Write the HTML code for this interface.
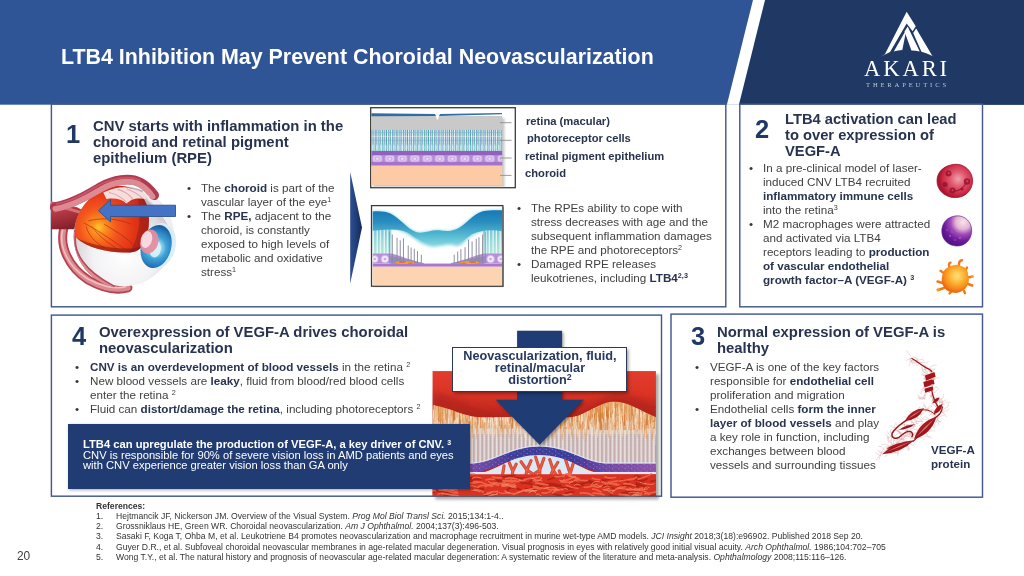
<!DOCTYPE html>
<html><head><meta charset="utf-8">
<title>LTB4 Inhibition May Prevent Choroidal Neovascularization</title>
<style>
html,body{margin:0;padding:0;}
body{width:1024px;height:576px;position:relative;overflow:hidden;background:#fff;font-family:"Liberation Sans",sans-serif;}
.abs{position:absolute;}
.t,.h,.num,.lab,.ref,.bl,#dt,#lblt,#title,#pgn,#akari,#thera{will-change:transform;}
.box{position:absolute;border:1.5px solid #3f5c97;box-sizing:border-box;background:#fff;}
.h{position:absolute;font-weight:bold;font-size:14.87px;line-height:16.1px;color:#27334f;white-space:nowrap;}
.num{position:absolute;font-weight:bold;font-size:25.5px;color:#1f3864;line-height:26px;white-space:nowrap;}
.t{position:absolute;font-size:11.67px;line-height:14px;color:#404040;white-space:nowrap;}
.t b{color:#27334f;}
.bl{position:absolute;font-size:11.67px;line-height:14px;color:#333;}
.lab{position:absolute;font-weight:bold;font-size:11.2px;line-height:14px;color:#27334f;white-space:nowrap;}
sup{font-size:62%;line-height:0;vertical-align:baseline;position:relative;top:-0.5em;}
.ref{position:absolute;font-size:8.6px;line-height:10.2px;color:#333;white-space:nowrap;}
</style></head>
<body>
<!-- HEADER -->
<svg class="abs" style="left:0;top:0" width="1024" height="106" viewBox="0 0 1024 106">
<rect width="1024" height="104.7" fill="#2f5597"/>
<polygon points="765,0 1024,0 1024,104.7 738.9,104.7" fill="#203864"/>
<polygon points="753,0 765,0 738.9,104.7 726.9,104.7" fill="#fff"/>
</svg>
<div class="abs" id="title" style="left:60.6px;top:43.9px;font-weight:bold;font-size:21.4px;line-height:26px;color:#fff;white-space:nowrap;">LTB4 Inhibition May Prevent Choroidal Neovascularization</div>

<!-- LOGO -->
<svg class="abs" id="logo" style="left:875px;top:5px" width="65" height="57" viewBox="0 0 657 576">
<g fill="#fff">
<polygon points="320,68 412,215 380,264 320,188 152,476 62,520 100,497"/>
<polygon points="318,246 276,454 232,459 190,470"/>
<polygon points="298,268 330,218 452,470 410,462 368,460"/>
<polygon points="416,238 580,516 525,490 470,472 386,284"/>
</g>
</svg>
<div class="abs" id="akari" style="left:864.3px;top:56.8px;font-family:'Liberation Serif',serif;font-size:22.6px;line-height:24px;color:#fff;letter-spacing:2.9px;white-space:nowrap;">AKARI</div>
<div class="abs" id="thera" style="left:866px;top:80.1px;font-family:'Liberation Serif',serif;font-size:6.6px;line-height:10px;color:#bcc7da;letter-spacing:2.85px;white-space:nowrap;">THERAPEUTICS</div>

<!-- BOXES -->
<svg class="abs" style="left:0;top:0" width="1024" height="576" viewBox="0 0 1024 576">
<g fill="#fff" stroke="#43598f" stroke-width="1.45">
<rect x="51.4" y="104.2" width="674.4" height="202.6"/>
<rect x="739.8" y="104.2" width="242.7" height="202.6"/>
<rect x="51.4" y="315.1" width="610.1" height="181.1"/>
<rect x="671" y="314.1" width="311.5" height="183.1"/>
</g>
</svg>


<!-- EYE -->
<svg class="abs" id="eye" style="left:50px;top:170px" width="135" height="130" viewBox="0 0 598 576">
<defs>
<radialGradient id="eyeIn" cx="215" cy="255" r="260" gradientUnits="userSpaceOnUse">
<stop offset="0" stop-color="#ffc830"/><stop offset="0.12" stop-color="#fc8e1e"/><stop offset="0.32" stop-color="#f4561b"/><stop offset="0.62" stop-color="#e23319"/><stop offset="0.85" stop-color="#c6271a"/><stop offset="1" stop-color="#a01d1a"/>
</radialGradient>
<radialGradient id="sclera" cx="330" cy="378" r="250" gradientUnits="userSpaceOnUse">
<stop offset="0" stop-color="#ffffff"/><stop offset="0.55" stop-color="#f3f2f4"/><stop offset="0.85" stop-color="#dcd8dd"/><stop offset="1" stop-color="#bdb5bc"/>
</radialGradient>
<radialGradient id="iris" cx="468" cy="345" r="95" gradientUnits="userSpaceOnUse">
<stop offset="0" stop-color="#d8f3fa"/><stop offset="0.3" stop-color="#8fd6ee"/><stop offset="0.52" stop-color="#3fa3d8"/><stop offset="0.8" stop-color="#2a80c0"/><stop offset="1" stop-color="#1d5f9e"/>
</radialGradient>
<linearGradient id="nerve" x1="40" y1="140" x2="70" y2="270" gradientUnits="userSpaceOnUse">
<stop offset="0" stop-color="#d9646d"/><stop offset="0.35" stop-color="#b63844"/><stop offset="1" stop-color="#7c1e29"/>
</linearGradient>
<filter id="eb" x="-5%" y="-5%" width="110%" height="110%"><feGaussianBlur stdDeviation="2.4"/></filter>
<clipPath id="ballclip2"><circle cx="326" cy="294" r="224"/></clipPath>
<clipPath id="ballclip"><ellipse cx="326" cy="294" rx="221" ry="228"/></clipPath>
</defs>
<g filter="url(#eb)">
<!-- lower-left muscle bands behind -->
<path d="M62,255 C40,335 80,430 170,488 C230,522 290,537 345,522" fill="none" stroke="#b5434f" stroke-width="40" stroke-linecap="round"/>
<path d="M62,255 C40,335 80,430 170,488 C230,522 290,537 345,522" fill="none" stroke="#dc8a90" stroke-width="24" stroke-linecap="round"/>
<path d="M56,265 C38,335 76,426 166,482 C226,516 290,529 335,517" fill="none" stroke="#efc0c2" stroke-width="7" stroke-linecap="round"/>
<!-- optic nerve -->
<path d="M5,138 L120,165 L185,200 L170,235 L130,262 L5,262 Z" fill="url(#nerve)"/>
<path d="M5,150 L150,192" stroke="#e58088" stroke-width="12" stroke-linecap="round" opacity=".8"/>
<!-- eyeball -->
<circle cx="326" cy="294" r="221" fill="url(#sclera)"/>
<g clip-path="url(#ballclip)">
<path d="M100,280 C85,375 150,460 270,522" fill="none" stroke="#b84a56" stroke-width="34" stroke-linecap="round"/>
<path d="M100,280 C85,375 150,460 270,522" fill="none" stroke="#dc8e94" stroke-width="20" stroke-linecap="round"/>
<!-- interior -->
<path d="M116,300 C90,185 165,80 295,70 C375,68 425,115 436,185 C442,235 436,275 424,312 C405,352 380,367 330,366 C245,364 165,344 116,300 Z" fill="url(#eyeIn)"/>
<g fill="none" stroke="#b3241c" stroke-width="4" opacity=".7">
<path d="M150,235 C200,260 260,300 330,350"/><path d="M170,225 C230,210 300,215 360,240"/><path d="M185,250 C220,300 270,330 300,352"/><path d="M160,250 C170,290 200,320 240,345"/><path d="M240,240 C290,270 340,300 380,340"/>
</g>
<path d="M116,300 C165,344 245,364 330,366 C380,367 405,352 424,312 C412,338 385,350 330,348 C250,346 170,328 116,300 Z" fill="#7e1a15" opacity=".6"/>
<path d="M380,90 C420,120 436,160 436,185 C442,235 436,275 424,312 C405,352 380,367 350,366 C400,300 410,180 380,90 Z" fill="#8a1a16" opacity=".45"/>
</g>
<!-- white cut rim (right) -->
<g clip-path="url(#ballclip2)"><path d="M430,100 C475,135 515,190 548,250" fill="none" stroke="#f1eef1" stroke-width="40" stroke-linecap="round"/></g>
<path d="M418,118 C455,150 490,200 520,262" fill="none" stroke="#d9cfd4" stroke-width="6" stroke-linecap="round"/>
<!-- upper muscle band -->
<path d="M20,165 C100,150 165,110 225,75 C280,45 350,30 400,55 C428,70 448,92 462,112" fill="none" stroke="#b03a50" stroke-width="42" stroke-linecap="round"/>
<path d="M24,172 C104,158 168,118 228,84 C282,54 348,40 396,64 C422,78 440,98 454,118" fill="none" stroke="#de8a93" stroke-width="26" stroke-linecap="round"/>
<path d="M30,150 C100,138 160,100 218,66 C272,38 345,22 398,44" fill="none" stroke="#c9566a" stroke-width="7" stroke-linecap="round"/>
<!-- flap -->
<path d="M236,100 C270,84 300,76 330,76 C375,82 410,98 442,116 L420,128 C400,126 378,126 362,132 L338,148 C320,130 290,122 250,128 Z" fill="#f5dede"/>
<g fill="none" stroke="#e3a6ac" stroke-width="5"><path d="M262,100 C290,106 318,122 338,142"/><path d="M300,86 C330,94 352,110 366,128"/><path d="M340,84 C370,94 392,108 408,124"/></g>
<!-- cornea and iris -->
<ellipse cx="484" cy="336" rx="72" ry="103" transform="rotate(15 484 336)" fill="#d8edf7" opacity=".9"/>
<ellipse cx="470" cy="339" rx="67" ry="97" transform="rotate(15 470 339)" fill="url(#iris)"/>
<ellipse cx="467" cy="352" rx="24" ry="36" transform="rotate(15 467 352)" fill="#d9f3fb" opacity=".9"/>
<ellipse cx="440" cy="317" rx="40" ry="54" transform="rotate(15 440 317)" fill="#e78c9e" opacity=".95"/>
<ellipse cx="428" cy="308" rx="24" ry="38" transform="rotate(15 428 308)" fill="#f8d9df"/>
</g>
<!-- blue arrow -->
<polygon points="215,180 268,130 268,156 556,156 556,206 268,206 268,230" fill="#4472c4" stroke="#2f528f" stroke-width="4" stroke-linejoin="miter"/>
</svg>
<!-- RETINA 1 -->
<svg class="abs" id="ret1" style="left:366px;top:104px" width="154" height="90" viewBox="366 104 154 90">
<defs>
<pattern id="pr1" x="371" y="130" width="4.2" height="21.5" patternUnits="userSpaceOnUse">
<rect width="4.2" height="21.5" fill="#f1f9f9"/>
<rect x="0.3" y="0" width="0.95" height="21.5" fill="#4a6fb8"/>
<rect x="2.4" y="0" width="0.95" height="21.5" fill="#3aa894"/>
<rect x="0" y="2" width="4.2" height="1" fill="#7fb7c9" opacity=".6"/>
<rect x="0" y="6" width="4.2" height=".8" fill="#fff" opacity=".5"/>
<rect x="0" y="10" width="4.2" height=".8" fill="#6b8fc4" opacity=".4"/>
<ellipse cx="1.9" cy="17.5" rx="1" ry="3.4" fill="#fff" opacity=".85"/>
<rect x="0" y="13" width="4.2" height="8.5" fill="#7fc4d6" opacity=".28"/>
</pattern>
<pattern id="cell1" x="371" y="155" width="12.5" height="7.4" patternUnits="userSpaceOnUse">
<rect width="12.5" height="7.4" fill="#b58bd6"/>
<rect x="1.6" y="0.5" width="9.4" height="6.4" rx="2.4" fill="#ddc6ee"/>
<rect x="4" y="2" width="4.6" height="3.4" rx="1.2" fill="#c3a0de"/>
<rect x="5" y="2.7" width="2.6" height="2" rx=".8" fill="#f3eafa"/>
</pattern>
<filter id="r1s" x="-5%" y="-5%" width="110%" height="110%"><feGaussianBlur stdDeviation="1.3"/></filter>
<filter id="r1b" x="-2%" y="-2%" width="104%" height="104%"><feGaussianBlur stdDeviation="0.35"/></filter>
</defs>
<rect x="370.7" y="107.7" width="144.6" height="80" fill="#fff" stroke="#3a3a3a" stroke-width="1.3"/>
<rect x="373" y="118" width="131.5" height="69" fill="#9a9a9a" opacity=".55" filter="url(#r1s)"/>
<g filter="url(#r1b)">
<rect x="371.4" y="116" width="130.8" height="14" fill="#c9c9c9"/>
<rect x="371.4" y="129.8" width="130.8" height="21.5" fill="url(#pr1)"/>
<rect x="371.4" y="151" width="130.8" height="14.6" fill="#9461bd"/>
<rect x="371.4" y="155" width="130.8" height="7.4" fill="url(#cell1)"/>
<rect x="371.4" y="162.4" width="130.8" height="3.2" fill="#a672cd"/>
<rect x="371.4" y="165.5" width="130.8" height="19.6" fill="#fccaa4"/>
<path d="M371.4,113.2 L435.2,113.9 L436.3,116.1 L371.4,116.3 Z" fill="#2e6da8"/>
<path d="M439.6,114 L502,113 L502,114.2 L439,115.9 Z" fill="#2e6da8"/>
<path d="M435.2,113.6 L439.8,113.6 L438.2,118.6 L437.4,120 L436.6,118.6 Z" fill="#fff"/>
</g>
<g stroke="#8f8f8f" stroke-width="0.9">
<line x1="500" y1="122.7" x2="511.5" y2="122.7"/><line x1="500" y1="140.3" x2="511.5" y2="140.3"/><line x1="500" y1="158" x2="511.5" y2="158"/><line x1="500" y1="175.4" x2="511.5" y2="175.4"/>
</g>
</svg>
<!-- CHEVRON -->
<svg class="abs" id="chev" style="left:348px;top:170px" width="16" height="116" viewBox="348 170 16 116">
<defs><linearGradient id="chg" x1="350" y1="0" x2="362" y2="0" gradientUnits="userSpaceOnUse"><stop offset="0" stop-color="#2b4f93"/><stop offset=".45" stop-color="#23407c"/><stop offset="1" stop-color="#162a55"/></linearGradient>
<filter id="chb"><feGaussianBlur stdDeviation="0.35"/></filter></defs>
<polygon points="350.2,172 362,227.5 350.2,283.5" fill="url(#chg)" filter="url(#chb)"/>
</svg>
<!-- RETINA 2 -->
<svg class="abs" id="ret2" style="left:368px;top:200px" width="140" height="92" viewBox="0 0 877 576">
<defs>
<linearGradient id="wv" x1="0" y1="60" x2="0" y2="290" gradientUnits="userSpaceOnUse">
<stop offset="0" stop-color="#1876b6"/><stop offset=".35" stop-color="#2a8fc0"/><stop offset=".7" stop-color="#55b9d2"/><stop offset="1" stop-color="#8ad8e0"/>
</linearGradient>
<linearGradient id="prg" x1="0" y1="170" x2="0" y2="345" gradientUnits="userSpaceOnUse">
<stop offset="0" stop-color="#4fb0cc"/><stop offset=".5" stop-color="#7fd0cf"/><stop offset="1" stop-color="#a5ded2"/>
</linearGradient>
<pattern id="pr2" x="28" y="0" width="22" height="400" patternUnits="userSpaceOnUse">
<rect x="3" y="0" width="8" height="400" rx="4" fill="#fff" opacity=".92"/>
<rect x="15" y="0" width="4" height="400" fill="#fff" opacity=".5"/>
</pattern>
<filter id="wb" x="-5%" y="-10%" width="110%" height="130%"><feGaussianBlur stdDeviation="9"/></filter>
<filter id="r2b" x="-2%" y="-2%" width="104%" height="104%"><feGaussianBlur stdDeviation="2"/></filter>
<clipPath id="r2c"><rect x="28" y="40" width="812" height="494"/></clipPath>
</defs>
<rect x="30" y="44" width="822" height="502" fill="#777" opacity=".5" filter="url(#r2b)"/>
<rect x="22" y="35" width="823" height="505" fill="#fff" stroke="#3a3a3a" stroke-width="8"/>
<g clip-path="url(#r2c)" filter="url(#r2b)">
<!-- soft lower glow of wave -->
<path d="M28,72 C70,68 110,70 140,85 C200,115 250,185 300,200 C340,215 400,185 445,190 C480,195 520,200 560,180 C620,150 650,90 720,70 C760,62 800,64 840,64 L840,200 C780,180 700,190 640,230 C600,260 580,300 540,285 C500,270 440,300 390,290 C340,280 300,250 250,215 C200,185 150,170 28,180 Z" fill="#7fd3de" filter="url(#wb)"/>
<!-- photoreceptor sides -->
<rect x="28" y="175" width="118" height="170" fill="url(#prg)"/>
<rect x="28" y="185" width="118" height="160" fill="url(#pr2)"/>
<rect x="722" y="175" width="118" height="170" fill="url(#prg)"/>
<rect x="722" y="185" width="118" height="160" fill="url(#pr2)"/>
<!-- wave -->
<path d="M28,72 C70,68 110,70 140,85 C200,115 250,185 300,200 C340,215 400,185 445,190 C480,195 520,200 560,180 C620,150 650,90 720,70 C760,62 800,64 840,64 L840,196 C780,186 710,186 650,215 C610,240 590,275 545,268 C500,260 440,285 390,275 C340,265 300,240 250,205 C200,180 150,180 28,192 Z" fill="url(#wv)"/>
<!-- purple band -->
<rect x="28" y="398" width="812" height="20" fill="#a878cc"/>
<path d="M28,335 L150,335 C200,350 300,385 350,398 L28,398 Z" fill="#b791d8"/>
<path d="M840,335 L720,335 C670,350 570,385 520,398 L840,398 Z" fill="#b791d8"/>
<!-- cells -->
<g fill="#f1e8f8" stroke="#c9aee3" stroke-width="5">
<circle cx="42" cy="370" r="22"/><circle cx="106" cy="370" r="24"/><circle cx="768" cy="370" r="24"/><circle cx="832" cy="370" r="22"/>
</g>
<g fill="#c9aee3"><circle cx="42" cy="370" r="8"/><circle cx="106" cy="370" r="9"/><circle cx="768" cy="370" r="9"/><circle cx="832" cy="370" r="8"/></g>
<!-- sticks -->
<g stroke="#7f7f98" stroke-width="5.5" stroke-linecap="round">
<line x1="152" y1="218" x2="152" y2="390"/><line x1="182" y1="240" x2="182" y2="390"/><line x1="202" y1="255" x2="202" y2="390"/><line x1="222" y1="242" x2="222" y2="390"/><line x1="252" y1="288" x2="252" y2="390"/><line x1="270" y1="300" x2="270" y2="390"/><line x1="290" y1="308" x2="290" y2="390"/><line x1="310" y1="322" x2="310" y2="390"/><line x1="334" y1="345" x2="334" y2="392"/>
<line x1="718" y1="218" x2="718" y2="390"/><line x1="695" y1="236" x2="695" y2="390"/><line x1="678" y1="245" x2="678" y2="390"/><line x1="652" y1="262" x2="652" y2="390"/><line x1="630" y1="250" x2="630" y2="390"/><line x1="608" y1="298" x2="608" y2="390"/><line x1="582" y1="310" x2="582" y2="390"/><line x1="562" y1="325" x2="562" y2="390"/><line x1="540" y1="345" x2="540" y2="392"/>
<line x1="135" y1="200" x2="135" y2="390" opacity=".7"/><line x1="735" y1="200" x2="735" y2="390" opacity=".7"/>
</g>
<g fill="#8b8ba6" opacity=".75"><path d="M140,400 L140,350 L350,395 L350,400 Z"/><path d="M730,400 L730,350 L520,395 L520,400 Z"/></g>
<!-- drusen -->
<g fill="#f6a51f"><ellipse cx="232" cy="392" rx="60" ry="9"/><ellipse cx="636" cy="392" rx="60" ry="9"/></g>
<g fill="#ea6f25"><ellipse cx="215" cy="388" rx="22" ry="6"/><ellipse cx="655" cy="388" rx="22" ry="6"/><ellipse cx="265" cy="395" rx="18" ry="4"/><ellipse cx="600" cy="395" rx="18" ry="4"/></g>
<!-- peach -->
<rect x="28" y="418" width="812" height="114" fill="#fcd4b2"/>
</g>
</svg>
<!-- CNV IMAGE -->
<svg class="abs" id="cnv" style="left:425px;top:365px" width="240" height="140" viewBox="0 0 987 576">
<defs>
<linearGradient id="redtop" x1="0" y1="25" x2="0" y2="220" gradientUnits="userSpaceOnUse">
<stop offset="0" stop-color="#e23c2c"/><stop offset=".45" stop-color="#dc3426"/><stop offset="1" stop-color="#b8261d"/>
</linearGradient>
<linearGradient id="tang" x1="0" y1="150" x2="0" y2="290" gradientUnits="userSpaceOnUse">
<stop offset="0" stop-color="#e9ab6c"/><stop offset=".5" stop-color="#efc494"/><stop offset="1" stop-color="#e6cdbf"/>
</linearGradient>
<pattern id="fib" x="0" y="0" width="23" height="60" patternUnits="userSpaceOnUse">
<path d="M3,0 C5,20 1,40 3,60" stroke="#d97a2e" stroke-width="3.4" fill="none" opacity=".9"/>
<path d="M10,0 C8,25 12,40 10,60" stroke="#fbf1e4" stroke-width="3" fill="none" opacity=".85"/>
<path d="M16,0 C18,20 14,45 16,60" stroke="#d9762c" stroke-width="2.2" fill="none" opacity=".7"/>
<path d="M21,0 C20,30 22,40 21,60" stroke="#fbe9d6" stroke-width="2" fill="none" opacity=".8"/>
</pattern>
<pattern id="gst" x="0" y="0" width="17" height="8" patternUnits="userSpaceOnUse">
<rect width="17" height="8" fill="#c5b1b1"/>
<rect x="2" y="0" width="7.5" height="8" fill="#f1eae8"/>
<rect x="0" y="3.5" width="17" height="1.8" fill="#b39c9c" opacity=".55"/>
</pattern>
<linearGradient id="rpe" x1="30" y1="0" x2="950" y2="0" gradientUnits="userSpaceOnUse">
<stop offset="0" stop-color="#8b55ab"/><stop offset=".22" stop-color="#6a4aa6"/><stop offset=".36" stop-color="#3a3c9a"/><stop offset=".64" stop-color="#3a3c9a"/><stop offset=".78" stop-color="#6a4aa6"/><stop offset="1" stop-color="#8b55ab"/>
</linearGradient>
<pattern id="dots" x="0" y="0" width="26" height="18" patternUnits="userSpaceOnUse">
<circle cx="5" cy="5" r="2.6" fill="#d06ac0"/><circle cx="17" cy="12" r="2.4" fill="#e08ad0"/><circle cx="22" cy="3" r="1.8" fill="#8e7ad8"/>
</pattern>
<pattern id="chor" x="30" y="450" width="120" height="90" patternUnits="userSpaceOnUse">
<rect width="120" height="90" fill="#d62f1f"/>
<g fill="none" stroke-linecap="round">
<path d="M5,15 C25,5 45,8 60,20" stroke="#f06a4c" stroke-width="9"/>
<path d="M70,10 C90,2 105,8 118,22" stroke="#ec5a3e" stroke-width="8"/>
<path d="M10,45 C30,35 55,40 75,55" stroke="#f27656" stroke-width="9"/>
<path d="M80,45 C95,38 110,42 120,52" stroke="#e9503a" stroke-width="8"/>
<path d="M0,75 C20,65 40,70 55,82" stroke="#ee6246" stroke-width="9"/>
<path d="M62,78 C80,68 100,70 115,84" stroke="#f27656" stroke-width="8"/>
<path d="M30,28 C45,24 60,30 70,36" stroke="#ab1f17" stroke-width="5"/>
<path d="M85,28 C98,24 110,30 118,36" stroke="#ab1f17" stroke-width="4"/>
<path d="M5,60 C20,56 35,60 45,66" stroke="#ab1f17" stroke-width="5"/>
<path d="M70,62 C85,58 98,62 108,68" stroke="#b5231a" stroke-width="4"/>
</g>
</pattern>
<filter id="cb" x="-2%" y="-2%" width="104%" height="104%"><feGaussianBlur stdDeviation="1.6"/></filter>
<filter id="csh" x="-5%" y="-5%" width="112%" height="112%"><feGaussianBlur stdDeviation="6"/></filter>
<filter id="big" x="-10%" y="-20%" width="120%" height="140%"><feGaussianBlur stdDeviation="14"/></filter>
<clipPath id="cclip"><rect x="30" y="25" width="920" height="515"/></clipPath>
<clipPath id="tanclip"><path d="M30,165 C100,175 150,210 220,215 C300,218 350,210 470,215 C560,215 600,222 640,205 C700,175 740,150 780,150 C830,150 880,185 950,215 L950,330 L30,330 Z"/></clipPath>
<clipPath id="grayclip"><path d="M30,262 C150,258 300,262 470,262 C640,262 800,275 950,262 L950,420 L720,420 C640,400 590,340 470,338 C350,340 300,400 220,420 L30,420 Z"/></clipPath>
</defs>
<rect x="42" y="38" width="920" height="515" fill="#555" opacity=".5" filter="url(#csh)"/>
<g clip-path="url(#cclip)" filter="url(#cb)">
<rect x="30" y="25" width="920" height="515" fill="url(#redtop)"/>
<!-- darker red lobes near boundary -->
<path d="M30,110 C120,120 200,190 300,200 C400,205 560,205 640,195 C700,160 740,120 790,115 C850,115 900,150 950,170 L950,230 L30,230 Z" fill="#a8211a" opacity=".55" filter="url(#big)"/>
<!-- tan fibrous -->
<g clip-path="url(#tanclip)">
<rect x="30" y="140" width="920" height="200" fill="url(#tang)"/>
<path d="M788,162q3,23 0,45M309,238q0,44 4,89M799,222q-6,28 1,56M706,179q1,33 -2,66M672,202q-5,31 0,61M324,220q-1,25 -2,49M406,203q-5,23 -0,46M215,196q-5,25 0,49M879,236q-1,34 -3,68M284,175q-5,46 4,92M469,188q6,27 -3,54M556,196q-3,25 4,51M758,221q-5,45 2,90M720,165q6,33 -1,65M731,158q-3,38 0,77M373,236q0,40 1,81M423,228q1,27 1,54M387,145q2,25 -2,49M727,196q4,46 2,92M373,145q3,35 3,71M216,157q3,47 -0,94M709,156q2,35 1,70M178,155q5,37 -3,74M37,149q-1,42 -0,83M945,207q2,27 -4,54M289,217q-6,25 0,49M332,247q4,23 -1,46M771,189q-2,38 -2,77M446,228q-3,29 -1,59M118,175q1,36 1,72M297,143q-2,21 -2,41M553,169q1,41 1,82M707,197q-2,32 -3,63M761,195q5,23 1,45M604,188q6,23 -3,47M367,250q-0,23 -0,47M258,242q-6,31 -0,63M34,218q5,44 -4,88M651,174q-2,33 -2,66M152,209q6,22 -4,45M917,161q3,22 0,45M737,196q-5,37 1,75M501,246q-5,20 1,40M882,186q1,40 -1,79M458,206q-2,21 2,42M267,192q-2,27 1,54M714,245q-4,33 -1,66M84,166q1,36 -2,72M197,151q0,25 -2,50M843,202q-1,29 -4,59M704,223q3,30 -2,60M232,165q1,25 1,51M700,151q-0,41 -1,82M493,188q-1,26 1,51M688,241q5,25 2,51M686,248q3,24 3,48M142,205q-2,46 3,92M864,188q-3,24 3,48M418,175q5,32 -2,64M47,244q-1,29 4,57M289,149q-3,44 -2,89M893,165q-2,45 -2,90M229,200q-1,35 0,71M304,232q3,46 3,91M95,168q-4,26 4,51M863,241q-5,35 -1,71M82,240q-3,27 4,55M214,241q2,29 -3,57M857,184q2,29 1,59M261,154q-6,36 3,72M346,159q-5,29 -1,58M530,185q-3,29 -0,58M746,188q-0,41 -3,82M187,233q-1,33 0,66M809,181q-2,30 -4,60M531,193q-1,34 -0,67M688,160q-5,47 3,94M191,227q-5,27 0,54M802,233q6,44 -4,88M379,152q-1,41 2,82M762,250q5,39 0,77M104,238q-5,23 3,45M288,213q-3,21 2,42M65,196q-3,46 2,92M714,208q2,41 -4,82M206,199q-3,47 1,93M148,233q0,32 1,64M156,220q4,42 -2,84M246,158q-1,45 -1,89M509,217q-2,29 2,57M745,173q5,22 2,44M577,185q-1,46 -2,93M122,179q-2,37 4,73M628,190q1,38 1,76M486,198q4,34 -2,67M753,173q-5,43 -0,87M437,218q-3,26 -3,51M547,203q-4,20 -2,40M911,190q-3,36 1,71M778,214q-1,20 -0,40M71,227q-2,29 1,58M568,195q0,44 -1,87M89,201q0,30 -1,60M36,144q-5,24 3,49M564,166q2,40 -4,79M721,165q-4,47 -2,95M259,235q1,43 -3,85M424,217q5,22 3,43M887,217q6,37 -2,74M311,154q4,25 -3,50M715,184q3,44 1,88M807,145q-2,27 -1,55M647,237q5,40 2,81M358,196q4,41 -1,81M357,208q5,26 -4,53M627,193q1,25 -0,51M915,237q4,36 3,72M182,231q6,43 2,86M391,163q-3,38 2,76M558,231q-2,30 3,60M640,182q-1,35 1,71M505,171q5,47 2,94M286,161q4,40 1,80M226,219q-2,34 1,69M443,211q6,41 -3,81M555,244q1,38 3,76M59,227q1,37 -2,74M600,154q-3,34 3,69M770,192q-1,41 0,82M179,234q3,41 -3,82M784,141q-0,36 -4,71M418,238q-2,37 3,74M357,239q-5,31 4,62M95,168q-5,41 0,82M820,205q3,30 3,59M563,209q-1,29 4,58M924,140q-3,25 2,51M215,159q-4,41 4,82M449,239q-4,43 2,85M412,164q2,21 0,43M309,232q-1,25 -3,51M352,237q-4,34 -2,68M623,171q-5,44 3,89M602,230q-5,30 -3,59M607,143q3,23 3,46M818,232q5,35 2,71M543,187q-5,21 -2,41M454,153q1,47 2,93M851,165q5,44 -2,89M145,228q4,44 -1,89M584,153q-1,26 2,53M112,242q6,21 -2,42M783,230q-0,46 2,92M299,232q5,23 1,46M87,244q-5,29 -2,57M55,171q6,40 1,79M816,230q-1,40 -2,79M174,200q3,26 -1,51M563,200q-4,37 -2,75M664,163q6,38 -1,77M915,208q0,46 2,92M658,161q1,34 -0,68M637,240q4,42 -3,84M677,209q-6,46 -3,92M928,181q1,39 -1,79M434,202q0,47 2,94M309,218q3,37 3,73M103,246q-3,37 -0,74M119,165q3,43 3,86M179,152q-0,30 2,61M304,221q-3,36 2,72M98,205q-5,25 -0,50M508,207q5,30 2,61M172,141q-1,46 -3,93M193,217q-2,25 1,50M354,212q4,46 1,92M606,174q2,38 1,75M481,223q3,26 4,51M63,168q-5,47 3,94M564,148q-6,37 3,75M308,242q-4,45 -1,89M170,223q-5,23 -3,45M820,167q-1,29 0,58M410,244q-0,29 3,59M254,159q-2,43 3,86M786,181q-5,29 3,58M437,178q-3,25 3,50M150,201q0,37 0,74M396,161q5,43 1,85M262,240q-4,26 1,51M795,203q6,23 -3,46M346,249q3,42 -3,84M814,184q3,20 3,41M74,190q-2,45 -2,90M747,189q4,47 3,95M680,161q1,39 -0,78M551,174q5,25 -1,51M127,247q2,34 -1,68M167,177q-3,43 3,86M310,239q-1,25 -3,50M167,197q0,30 -2,60M316,175q-5,45 -1,89M816,203q6,27 -3,54M156,142q4,32 -2,64M293,228q-6,22 1,44M111,198q1,24 3,48M447,170q2,37 -4,74M251,181q-3,34 1,68M265,240q-3,30 -3,59M146,164q-1,44 -0,89M913,246q-3,41 -1,82M495,168q-3,30 -2,59M720,206q-0,32 1,65M660,143q-0,43 -1,86M912,223q-6,30 -1,59M435,181q1,23 -2,45M731,198q4,28 -0,56M108,171q-1,21 3,43M895,212q-3,24 -2,48M373,210q-0,21 -1,41M638,231q1,31 -2,62M448,210q0,21 0,43M199,167q-2,43 -2,85M292,197q-2,31 -1,62M229,196q-5,36 1,73M313,248q-4,46 2,92M348,152q5,44 2,88M616,248q2,35 1,71M820,234q-4,28 0,57M573,179q4,44 1,87M522,216q4,25 -3,51M861,209q-4,28 1,55M457,217q5,23 -1,45M435,221q-1,37 -2,73M459,143q4,27 -3,54M109,233q0,30 1,61M690,175q-6,41 3,82M315,209q3,28 -1,57M584,175q3,43 -2,86M726,244q-4,27 3,53M916,154q5,41 -2,83M748,173q0,42 -0,83M145,212q-3,39 -4,79M113,169q3,47 3,95M720,155q5,31 3,61M942,230q3,40 3,79M425,144q-6,29 -2,57M573,170q-5,27 -1,54M505,205q-5,46 -2,92M101,242q2,37 3,75M32,239q2,29 -1,58M716,173q-3,28 2,55M450,157q1,30 -1,60M575,233q4,38 -2,75M830,243q-6,35 -3,69M727,235q0,40 0,80M136,206q-4,47 1,95M813,212q-3,30 2,59M883,237q3,31 2,62M375,223q-4,31 -4,61" fill="none" stroke="#d67a30" stroke-width="3" stroke-linecap="round" opacity=".8"/>
<path d="M697,223q-5,21 -1,42M222,220q1,25 0,50M351,234q0,32 1,64M402,160q3,46 0,92M486,208q-5,28 0,56M858,151q-2,47 4,94M738,170q5,26 4,52M771,204q3,35 3,70M798,172q5,43 1,85M39,161q-1,38 3,76M620,217q0,24 2,48M873,239q0,27 4,55M113,148q3,25 -1,50M681,231q-6,42 2,84M764,217q4,44 1,88M827,200q-3,23 3,46M339,192q2,44 2,88M463,196q-4,22 -3,44M524,198q2,22 -3,44M385,143q-4,33 4,66M363,231q-2,32 3,64M283,197q6,38 2,75M77,190q4,46 -1,92M148,170q-4,41 3,82M274,216q-3,39 0,78M608,170q2,35 4,69M291,159q1,34 -0,68M870,162q-0,34 -2,68M448,190q3,30 4,61M922,164q5,30 -3,60M112,147q0,46 -1,93M121,237q2,47 3,95M553,174q-2,25 -3,50M369,145q5,21 3,42M780,179q1,32 2,65M309,196q4,35 -1,70M33,184q-4,44 1,89M152,170q-5,37 -0,74M570,183q4,41 -2,82M730,223q1,36 1,73M711,216q2,27 2,55M455,239q1,29 1,57M585,160q-5,38 0,77M445,216q6,44 -2,87M867,192q-6,34 3,68M240,171q-3,28 -2,57M295,199q3,30 3,60M887,181q3,39 2,78M397,161q2,41 -1,82M643,147q5,42 4,83M135,216q-4,41 1,83M204,164q-3,21 3,42M570,228q-4,47 3,93M854,211q-4,29 -0,58M373,169q2,39 -2,77M189,195q2,40 1,79M855,223q3,32 1,64M344,158q3,30 2,61M310,200q1,22 -0,44M736,235q6,21 -3,43M917,248q-3,26 -3,52M868,223q4,47 -1,93M742,179q-1,29 2,58M321,202q4,36 -0,71M417,201q3,33 -3,65M194,144q4,31 1,63M615,243q-2,43 -2,85M525,165q-5,36 -1,73M694,168q3,24 -2,48M859,207q0,44 -0,89M267,146q-3,46 -3,92M888,199q5,36 2,72M268,171q2,38 -2,76M260,196q4,22 1,43M169,204q-5,36 -1,73M759,190q-3,40 4,80M645,201q-2,20 -4,41M434,159q-2,27 -3,53M291,195q1,24 4,47M694,245q2,23 -2,46M890,195q3,40 -3,80M122,229q-1,43 -4,85M52,228q-2,39 1,78M773,141q6,41 3,81M843,188q-5,37 2,73M637,185q-4,21 -1,43M877,192q-4,44 -2,88M248,172q-2,42 -1,84M657,189q2,44 3,88M423,183q6,32 4,65M552,194q4,22 1,44M409,158q3,33 -2,66M274,196q-6,34 -3,67M374,218q-6,30 -2,61M210,224q6,26 -2,53M196,142q0,34 2,67M645,200q5,21 -2,43M246,159q2,36 -1,72M266,141q3,36 -3,73M252,223q-4,40 4,79M689,219q6,29 -0,58M616,248q-4,43 -3,86M223,153q1,44 -0,89M369,195q3,32 -1,64M828,233q3,44 -3,88M418,232q1,30 -2,60M789,177q4,30 -3,60M36,187q-5,32 -1,64M738,237q4,45 -3,91M366,189q3,21 -2,42M748,214q-2,27 -0,55M209,141q-3,32 -2,63M754,222q-6,31 2,63M272,151q5,41 -2,81M531,238q-2,34 -3,69M55,238q-4,42 1,85M207,222q2,30 0,61M106,203q-5,38 -4,76M278,219q-1,47 3,94M684,170q4,32 -0,65M496,219q-0,24 0,48M552,216q-0,27 -0,55M125,227q1,46 -1,93M370,190q-3,30 4,60M367,163q-6,38 -1,76M546,230q-5,28 4,57M41,186q6,34 -1,68M252,171q-4,30 3,61M502,221q2,28 3,55M242,245q3,28 4,56M457,242q-1,31 3,62M584,146q0,24 -1,48M83,230q5,29 -1,58M199,187q5,43 1,85M262,198q-2,27 -4,54M47,243q-3,41 1,82M68,231q3,37 -1,74M430,230q-5,29 -3,57M874,171q1,22 -3,44M422,225q-1,26 3,53M830,236q6,21 0,42M168,248q6,23 -4,47M102,192q1,37 3,73M130,220q5,29 1,58M665,155q-3,45 -2,90M417,226q-0,29 1,58M257,153q3,31 1,62M225,212q2,43 -3,86M69,248q-3,40 2,79M564,209q2,30 -1,60M384,176q4,40 -2,81M99,168q-2,41 -4,82M806,188q3,22 0,44M810,232q5,43 -1,85M774,194q-3,38 1,76M98,235q1,25 3,50M791,234q-5,32 4,63M311,235q-1,31 0,63M532,226q-4,36 0,72M117,234q-2,25 1,50M345,238q-2,42 -1,84M709,196q-2,37 1,75M575,239q4,30 -2,59M297,166q-5,46 -2,91M461,218q-5,38 -1,76M692,156q4,23 -4,47M103,161q-2,43 -1,86M528,238q-4,21 -1,42M621,155q1,32 -3,64M335,147q-6,45 -3,90M594,165q-2,36 4,72M553,179q-0,25 2,50M689,218q5,34 -1,68M533,245q-0,42 2,83M739,172q3,31 -1,62M353,199q-3,22 4,44M259,229q-2,20 0,40M318,244q-2,46 -3,93M877,227q-5,34 -4,69M664,215q-2,33 -2,66M371,186q-1,37 -1,74M237,213q-4,46 2,92M625,165q4,24 -3,47M139,150q-1,42 -4,85M288,197q-4,33 3,66M670,170q-3,29 -4,58M591,170q4,38 -1,76M293,180q-5,33 -1,66M318,152q2,43 -0,86M97,220q5,30 1,61M251,223q-2,36 2,73M333,156q1,21 -2,42M175,145q-3,41 3,83M852,230q5,26 1,52M809,240q-1,29 3,57M297,151q1,21 -2,42M901,141q3,31 1,62M797,211q6,44 3,88M584,184q-3,35 -2,69M508,188q-5,31 4,61M336,193q1,30 2,59M893,206q-2,46 -0,92M341,246q-3,24 2,47M249,147q-0,30 -0,60M244,178q-4,28 0,56M240,161q5,46 -1,91M517,151q0,21 4,41M102,190q-6,42 1,84M271,223q5,43 2,85M110,212q-2,35 -2,71M465,186q5,31 -2,62M817,156q-1,39 -1,78M469,155q-1,26 -2,52M808,216q2,37 -3,75M40,149q-0,44 4,89M328,182q4,38 -1,76M475,179q5,27 3,53M432,155q-0,44 2,88M414,149q-5,41 3,81M186,178q-3,20 1,40" fill="none" stroke="#fbf0e2" stroke-width="3" stroke-linecap="round" opacity=".85"/>
<path d="M114,153q-6,22 0,43M237,223q0,39 3,77M922,174q2,41 -3,83M752,144q5,39 1,77M672,212q-5,31 -1,63M316,229q6,44 -1,88M852,239q1,21 -3,41M103,189q-4,39 -1,79M475,200q-4,23 -4,47M326,249q3,25 1,50M821,228q-2,22 3,43M624,234q4,21 -1,42M755,204q0,30 -4,60M891,236q2,38 2,76M434,167q6,38 3,76M764,158q-3,29 1,57M859,208q-1,36 -3,72M274,248q2,45 1,90M238,143q-6,21 -2,41M933,203q-5,26 -4,52M42,155q-4,29 -2,58M605,154q3,24 -2,47M609,171q-6,39 -2,78M825,172q-3,38 -3,75M420,190q0,21 -1,42M360,223q-1,44 -2,89M739,223q1,34 -1,68M697,204q-2,44 -3,87M826,204q3,42 2,84M362,235q-1,37 -3,74M118,165q-2,29 1,58M913,202q-6,38 2,77M522,226q2,30 0,59M749,188q4,43 0,85M491,218q6,34 3,69M488,216q5,23 1,46M54,141q3,43 1,87M402,167q5,33 1,67M71,163q4,22 3,45M882,187q-5,29 -2,57M347,183q3,29 3,59M379,230q-3,28 2,56M112,148q-0,47 -1,95M740,238q4,30 -3,60M847,186q-6,31 -3,61M390,153q6,38 -2,76M723,204q3,37 -0,74M792,157q0,39 -2,78M241,244q-0,38 0,75M811,210q5,26 3,52M748,218q-2,39 4,77M685,158q-1,42 -4,85M842,165q-5,32 0,63M525,230q5,46 1,92M399,243q-2,26 1,53M368,202q-3,23 -4,46M426,166q-3,42 -2,85M690,161q0,43 -3,86M675,250q1,28 0,57M904,249q-1,22 2,43M415,196q-6,36 -4,71M855,184q1,32 2,64M851,149q-6,37 0,75M781,193q4,30 2,60M872,200q2,28 -0,57M31,154q2,46 -4,93M722,223q6,21 -3,43M496,218q-2,33 -0,67M610,245q6,44 2,88M469,179q5,45 -2,90M753,178q-0,22 3,43M521,230q4,43 -2,86M868,149q-5,34 -1,68M845,229q1,47 0,95M182,193q-2,45 3,90M310,228q6,25 -3,51M104,203q3,41 -1,83M687,162q-3,29 -2,58M69,163q1,35 -1,70M592,176q-6,42 2,84M858,204q6,38 -3,75M117,196q0,40 -0,80M428,191q-5,44 1,88M115,233q4,27 -1,54M613,196q-0,46 0,93M492,168q-2,46 -3,92M221,219q1,45 4,90M236,237q-3,41 -3,82M419,186q3,33 -2,67M264,177q-1,24 1,49M281,155q-5,40 3,80M596,165q4,20 -4,41M724,199q-4,39 2,78M265,205q1,47 -3,93M253,185q4,43 -1,86M570,179q-2,33 4,67M373,175q-3,37 -3,74M439,231q-3,30 -2,60M585,170q0,35 -4,69M326,230q3,26 -3,52M479,186q-6,38 -3,76M401,241q4,34 0,68M938,149q-3,44 -2,88M514,186q5,47 2,95M257,166q-2,32 -2,64M219,169q-5,28 -2,56M906,232q5,37 4,74M115,145q0,29 4,58M55,217q-3,42 2,84M828,150q-0,38 2,76M167,213q-6,20 -1,41M349,188q6,26 -1,52M488,179q-4,44 3,88M206,236q1,32 -2,63M783,164q2,42 3,83M940,228q4,25 -3,50M776,241q-6,24 2,48M352,215q5,43 0,85M805,240q-2,41 3,82M417,239q-0,31 -4,61M127,242q3,33 -0,65M698,198q-2,24 1,48M174,244q1,22 3,43M703,156q2,23 -1,46M120,154q-6,38 -2,77M896,168q-6,43 -2,87M76,220q3,36 3,71M695,152q-6,33 2,65M376,191q6,45 1,89M386,236q-3,43 -0,86M902,248q-0,45 -3,90M850,163q-1,37 3,73M368,182q3,43 4,87M140,154q-0,39 3,77M457,145q-3,33 2,66M774,235q1,23 -2,46M930,156q3,38 -2,76M567,153q-3,21 -3,43M435,215q-3,45 -0,91M664,175q-2,29 3,57M363,225q-2,24 -2,48M240,157q4,31 1,62M943,175q-3,28 -0,57M144,228q-5,32 0,63M425,161q2,28 4,57M586,168q-2,21 -2,42M419,189q-4,28 3,55M902,220q1,46 2,91M436,213q2,43 2,87M593,178q5,42 -2,84M183,141q-4,27 -2,53M183,175q6,25 -3,49M42,241q3,31 -1,61M43,144q-5,45 -0,91M272,211q4,30 -2,61M526,248q5,35 -4,69M840,183q2,47 -2,95M738,158q3,35 -3,69M83,232q3,25 -0,50M209,235q-3,30 3,60" fill="none" stroke="#c9651f" stroke-width="1.8" stroke-linecap="round" opacity=".7"/>
</g>
<!-- gray striped -->
<g clip-path="url(#grayclip)">
<rect x="30" y="255" width="920" height="170" fill="url(#gst)"/>
<rect x="30" y="255" width="920" height="30" fill="#efd9c4" opacity=".55"/>
</g>
<g clip-path="url(#tanclip)"><path d="M603,252q4,24 1,48M879,226q4,18 1,36M859,229q-2,18 0,36M558,225q-2,14 2,28M734,231q-3,24 1,48M147,225q-2,25 -2,50M934,257q4,15 0,30M654,233q2,26 3,53M852,236q-3,16 -2,33M90,236q-4,21 1,41M341,236q-0,24 -1,49M473,251q4,11 -3,22M720,256q2,10 -1,21M562,225q-3,11 3,22M211,253q4,26 -1,53M356,244q-3,24 1,47M763,257q4,11 -2,21M343,248q-1,26 3,52M532,237q-3,16 -3,31M167,250q-3,27 -3,55M938,245q-2,17 1,34M790,242q-4,17 2,35M60,243q-3,25 1,49M904,248q-3,24 -0,48M167,256q-0,15 3,30M814,261q-0,18 1,36M471,236q-3,17 -1,34M939,261q-0,21 -1,42M112,235q3,24 -1,47M753,254q1,22 2,44M364,251q-0,15 2,30M666,236q1,27 0,53M41,245q1,14 -0,29M781,249q-1,24 1,48M709,256q3,16 2,32M663,261q0,27 0,53M183,256q-0,26 1,53M692,252q2,13 0,26M642,241q2,21 1,42M693,226q-0,13 1,26M232,250q-4,21 -0,42M238,227q-1,12 -2,25M208,226q-1,18 1,36M573,234q-4,26 -1,52M286,240q3,12 -1,24M63,248q0,12 -1,23M564,260q-1,24 2,49M621,239q1,12 0,25M911,261q-1,21 2,41M31,229q1,20 -2,40M609,258q-1,17 -2,33M298,261q4,17 2,33M578,235q-0,27 -1,54M324,261q-2,19 -0,37M142,248q-2,18 2,36M791,225q-2,19 3,39M749,234q-3,15 3,29M300,247q1,18 1,37M714,229q-2,23 0,47M339,236q-0,19 -1,39M715,247q-2,11 -0,21M873,258q-4,20 2,39M424,246q1,22 -0,45M869,239q3,17 -2,34M303,256q3,11 1,22M428,236q3,24 -2,47M470,245q-1,19 -2,37M569,255q-2,11 2,22M758,250q2,10 3,21M948,251q3,11 -2,22M624,260q-3,22 -1,45M875,231q-1,21 -2,41M603,227q-1,12 -3,24M83,246q3,23 -2,46M427,237q-0,21 3,41M374,227q-3,22 1,44M495,259q1,20 -1,39M538,234q0,23 -2,46M246,239q-3,23 1,46M633,228q-3,22 -2,43M576,234q-0,25 -1,51M763,226q-4,23 -2,45M906,250q-3,14 3,28M642,255q1,12 -1,25M246,237q-1,21 -1,41M156,256q2,21 -0,43M813,244q1,20 1,41M394,229q-2,11 -3,21M848,243q-4,23 -0,47M849,248q-0,18 -2,35M172,231q-1,17 2,33M170,234q-3,15 -1,30M246,243q3,11 -1,21M893,250q-0,22 3,44M138,250q1,15 1,30M180,232q-2,10 -3,21M399,261q-2,16 -0,33M290,252q-3,23 -2,45M648,260q-1,21 3,43M36,227q-1,24 -3,47M535,262q-1,19 -2,38M96,258q3,19 -3,37M254,227q-4,17 -1,34M405,236q-4,11 3,22M195,244q0,17 -2,34M319,229q3,19 1,39M818,233q0,10 -0,21M556,239q2,21 2,42M313,242q-2,24 -2,49M317,228q3,24 -1,47M149,228q-3,14 -0,29M561,234q2,11 -3,22M214,236q-3,17 -0,33M319,253q3,20 1,39M729,246q3,18 1,35M908,252q-2,22 2,45M382,230q-3,11 -1,22M652,236q2,11 0,22M55,227q-1,12 2,25M903,248q-1,14 -1,28M334,225q3,20 1,40M118,245q2,13 -0,26M893,254q-1,12 2,24M454,241q2,18 3,35M520,261q-3,20 2,41M416,227q-4,27 0,54M473,258q-2,17 -1,34M215,246q2,16 -2,32M354,234q3,27 2,54M599,240q3,13 -0,25M65,231q2,12 2,23M213,254q1,16 2,31M603,255q-4,17 0,33M570,232q-1,17 -3,34M317,239q2,18 -1,37M934,255q2,26 1,52M524,255q1,16 1,33M510,236q-3,11 -1,23M564,253q-2,23 3,45M283,251q2,11 1,23M910,258q3,22 1,44M592,233q3,19 -2,38M927,245q-4,17 -1,34M194,249q3,26 1,51M386,229q0,22 1,44M374,258q-2,14 -1,27M602,258q1,13 2,26M237,227q3,20 2,40M700,240q0,17 2,35M308,235q4,21 -2,41" fill="none" stroke="#dc9a5c" stroke-width="3" stroke-linecap="round" opacity=".6"/><path d="M58,234q1,16 -2,32M205,249q2,17 1,34M86,246q4,20 -1,40M812,251q-2,21 1,43M803,245q-2,9 -2,18M115,235q-3,17 2,33M707,256q2,20 3,39M910,250q-3,22 -2,44M89,237q-0,13 1,26M713,233q0,14 -1,27M138,249q1,13 -0,26M916,260q2,9 1,17M302,234q-1,15 1,29M875,242q-0,12 1,24M756,248q-1,12 2,24M508,232q-2,14 1,28M98,239q-0,9 3,18M528,242q-3,22 -1,43M776,230q-1,19 -3,38M261,245q0,13 -3,26M231,261q-0,14 -2,28M287,261q0,18 -3,36M391,255q1,14 2,28M624,250q-4,8 2,16M410,258q3,20 -1,40M949,254q-3,21 2,42M418,261q-2,22 -0,45M279,245q1,12 -2,24M186,245q-1,9 2,17M845,236q3,8 3,16M581,234q3,11 3,22M59,236q-2,14 2,28M373,255q0,10 3,20M676,233q1,9 -1,18M369,245q4,16 -2,32M553,238q2,16 -2,31M473,253q2,8 -0,15M494,250q-4,19 0,39M65,242q-4,13 -1,25M444,251q-1,21 0,43M686,260q4,22 -1,43M183,260q-0,9 1,17M516,242q-2,21 0,43M793,234q-0,13 0,26M221,245q-3,8 -1,17M162,261q-2,11 2,23M712,238q1,20 -1,40M609,238q3,11 -0,23M855,236q-4,10 1,19M546,230q3,8 -0,16M832,231q-3,16 1,33M592,250q4,11 -2,22M89,252q-3,9 -0,18M627,259q-3,18 1,37M806,234q-2,19 -1,38M31,254q3,15 -0,30M173,237q4,11 -2,23M111,241q-1,9 1,17M629,236q-0,10 1,19M441,248q-3,21 -1,42M484,247q0,21 1,42M416,255q-2,20 -2,40M268,241q-2,21 1,42M619,261q2,9 -1,18M125,250q1,20 -3,40M924,242q2,17 -1,34M406,241q-3,9 1,18M408,258q-2,8 -2,17M898,255q0,21 -2,42M413,237q1,8 -1,16M129,246q4,21 -0,43M125,255q0,9 -2,18M938,247q-2,14 0,28M925,244q0,11 3,21M381,250q-1,21 2,43M517,234q4,8 -0,17M438,259q0,16 -1,32M715,238q2,15 1,29M153,236q2,18 -2,36M948,234q-3,10 -0,20M600,257q2,10 -2,20M564,238q-4,13 1,26M143,254q1,13 1,25M480,258q-2,21 -1,43M837,234q-1,14 3,28M148,251q2,19 -3,38M898,240q1,20 -0,41M801,252q2,13 0,25M685,250q-3,19 -0,39M31,255q3,19 -3,38M522,245q-2,9 3,19M814,238q1,20 -1,40M623,237q-4,12 1,23M565,254q-1,15 -1,30M706,242q2,16 -0,33M661,232q3,11 -2,23M82,230q-3,19 -0,38M433,256q0,15 -3,29M762,255q3,17 1,34M689,257q-4,17 2,34M940,236q-1,8 -2,17M370,233q-4,11 -0,22M306,253q-3,13 3,27M853,252q-1,11 -0,22M406,231q2,14 1,29M821,252q3,19 3,38M760,243q1,17 2,35M687,244q-1,10 -1,21M657,255q0,10 2,21M366,233q-1,17 -2,33" fill="none" stroke="#f5e3cf" stroke-width="3" stroke-linecap="round" opacity=".7"/></g>
<!-- fluid -->
<path d="M200,450 C300,440 350,365 470,365 C590,365 640,440 740,450 Z" fill="#dbe8f3"/>
<rect x="30" y="440" width="920" height="10" fill="#e9e4f2"/>
<!-- vessels -->
<path d="M318,458 L325,415 M358,458 L361,437 L346,401 M361,437 L375,408 M414,458 L419,432 L395,398 M419,432 L436,394 M419,432 L440,446 M472,458 L472,432 L455,379 M472,432 L489,384 M472,432 L452,446 M515,458 L527,432 L513,389 M527,432 L546,401 M527,432 L540,452 M597,458 L597,447 L578,389 M597,447 L614,391 M560,458 L552,436" fill="none" stroke="#b3261c" stroke-width="13" stroke-linecap="round" stroke-linejoin="round" opacity=".7"/>
<path d="M318,458 L325,415 M358,458 L361,437 L346,401 M361,437 L375,408 M414,458 L419,432 L395,398 M419,432 L436,394 M419,432 L440,446 M472,458 L472,432 L455,379 M472,432 L489,384 M472,432 L452,446 M515,458 L527,432 L513,389 M527,432 L546,401 M527,432 L540,452 M597,458 L597,447 L578,389 M597,447 L614,391 M560,458 L552,436" fill="none" stroke="#e3472e" stroke-width="9.5" stroke-linecap="round" stroke-linejoin="round"/>
<path d="M318,458 L325,415 M358,458 L361,437 L346,401 M361,437 L375,408 M414,458 L419,432 L395,398 M419,432 L436,394 M419,432 L440,446 M472,458 L472,432 L455,379 M472,432 L489,384 M472,432 L452,446 M515,458 L527,432 L513,389 M527,432 L546,401 M527,432 L540,452 M597,458 L597,447 L578,389 M597,447 L614,391 M560,458 L552,436" fill="none" stroke="#f2775a" stroke-width="3" stroke-linecap="round" stroke-linejoin="round" opacity=".8"/>
<!-- RPE band -->
<path d="M30,405 L200,405 C290,400 350,335 470,335 C590,335 650,400 740,405 L950,405 L950,440 L740,440 C650,438 590,370 470,370 C350,370 290,438 200,440 L30,440 Z" fill="url(#rpe)"/>
<path d="M30,405 L200,405 C290,400 350,335 470,335 C590,335 650,400 740,405 L950,405 L950,440 L740,440 C650,438 590,370 470,370 C350,370 290,438 200,440 L30,440 Z" fill="url(#dots)" opacity=".8"/>
<path d="M30,403 L200,403 C290,398 350,333 470,333 C590,333 650,398 740,403 L950,403" fill="none" stroke="#dfe6f3" stroke-width="5" opacity=".8"/>
<!-- choroid -->
<rect x="30" y="450" width="920" height="90" fill="#d93120"/>
<path d="M428,484Q435,473 452,476M768,491Q752,499 730,497M870,521Q852,526 820,530M795,501Q786,514 770,505M864,494Q892,495 916,501M507,471Q536,462 562,458M354,493Q318,482 299,481M510,490Q539,484 563,504M559,501Q544,490 509,501M645,487Q678,479 704,488M877,472Q889,483 913,469M898,483Q878,497 869,485M103,476Q88,490 62,485M611,522Q576,525 562,541M474,479Q469,468 441,478M863,472Q874,467 903,488M729,472Q744,479 781,460M522,488Q490,486 469,504M164,468Q170,479 191,465M947,534Q919,545 892,545M318,460Q346,456 370,454M525,492Q543,505 557,493M810,472Q818,469 837,482M79,534Q82,544 108,532M760,535Q776,540 811,542M436,469Q412,463 393,466M360,505Q391,508 406,523M929,479Q948,476 974,466M290,533Q277,548 246,535M516,492Q505,499 477,489M85,525Q96,524 122,522M843,492Q855,497 877,501M397,487Q411,482 442,492M371,506Q350,497 338,515M526,530Q561,542 580,531M436,511Q453,517 470,501M294,473Q295,472 320,479M37,523Q19,525 1,532M608,509Q583,499 549,512M436,517Q425,510 415,508M853,522Q840,517 808,528M391,465Q363,464 334,459M108,476Q125,489 152,475M639,499Q603,506 586,511M600,486Q632,483 653,496M85,492Q51,505 31,499M893,467Q871,450 864,458M489,488Q499,488 513,495M193,478Q202,467 229,471M437,502Q456,502 468,496M192,517Q218,513 237,513M82,519Q55,525 40,508M661,475Q690,479 695,484M194,514Q207,512 239,509M813,495Q833,498 853,496" fill="none" stroke="#a81d16" stroke-width="7" stroke-linecap="round" opacity=".75"/>
<path d="M249,500Q266,484 303,495M800,478Q832,473 847,469M618,470Q649,477 668,475M89,517Q82,515 58,515M691,527Q721,528 736,534M891,527Q885,530 856,537M607,481Q587,484 562,481M862,511Q896,512 922,532M822,533Q841,551 874,550M558,480Q578,478 618,459M408,470Q428,468 471,460M71,514Q105,524 139,506M315,464Q294,466 277,461M174,461Q152,449 112,444M454,499Q482,514 505,504M496,492Q488,489 456,485M535,459Q553,462 565,457M85,507Q112,513 129,506M50,463Q69,468 90,468M324,486Q293,487 272,494M740,460Q755,470 783,462M250,473Q262,467 284,471M797,492Q781,498 757,481M445,476Q469,480 479,466M199,480Q224,476 257,493M299,520Q274,521 254,528M877,470Q916,457 931,448M904,530Q938,525 964,518M296,485Q265,498 245,495M71,528Q113,535 136,538M42,516Q17,520 -10,529M894,506Q862,517 831,513M354,473Q379,486 391,474M772,522Q788,505 825,501M277,499Q235,488 216,503M147,468Q165,458 202,449M321,483Q344,471 373,477M332,468Q345,460 378,469M373,505Q347,497 315,493M373,497Q344,485 317,488M523,512Q512,531 482,526M374,528Q342,532 329,518M639,527Q669,522 695,539M571,458Q575,443 600,450M840,472Q863,471 869,461M799,532Q821,533 831,534M688,466Q699,471 719,472M792,477Q773,480 741,489M368,489Q352,504 335,493M410,516Q442,510 465,502M475,508Q466,515 445,499M506,493Q479,492 467,486M320,476Q345,477 360,482M815,504Q800,503 786,509M188,486Q218,483 223,482M581,495Q605,507 629,507M818,489Q835,486 865,497M690,511Q700,510 724,523M202,513Q229,513 239,523M419,515Q387,520 364,533M564,511Q544,511 524,527M568,533Q580,536 603,530M134,527Q101,525 74,508M727,481Q752,492 788,489M914,510Q886,516 865,509M654,502Q672,507 706,490M633,468Q619,464 595,455M541,509Q512,515 504,510M724,500Q702,507 685,493M69,497Q86,491 111,489" fill="none" stroke="#f0694b" stroke-width="7" stroke-linecap="round" opacity=".9"/>
<path d="M528,518Q534,506 551,516M134,519Q119,523 109,515M780,516Q757,516 749,514M553,474Q570,483 573,470M903,488Q934,494 942,489M305,525Q314,532 347,525M639,496Q627,483 613,496M490,508Q524,497 539,506M759,507Q737,512 736,515M885,483Q905,489 907,489M883,514Q872,520 840,506M432,517Q411,509 411,517M178,497Q197,494 210,501M457,517Q439,515 411,520M371,499Q354,507 351,498M162,494Q148,487 139,499M55,467Q34,468 35,472M405,513Q380,531 378,523M231,465Q208,455 193,466M78,515Q104,506 110,509M260,479Q264,487 288,485M922,504Q904,495 903,512M80,509Q57,511 36,495M874,531Q869,526 842,543M300,524Q291,540 273,532M191,516Q218,515 226,522M412,476Q390,479 385,470M587,513Q580,501 563,515M460,517Q455,519 433,514M838,526Q855,522 880,525M96,489Q71,472 65,478M627,477Q612,469 593,489M242,533Q264,533 272,527M756,500Q753,491 735,505M52,533Q62,523 73,529M793,506Q812,511 839,511M440,467Q453,473 481,477M457,515Q432,521 427,525M706,491Q716,506 732,494M338,492Q338,502 316,499M835,535Q851,549 870,538M861,532Q889,544 893,532M299,531Q274,536 260,540M618,461Q599,465 587,455M717,480Q693,475 688,489M732,513Q748,511 771,528M317,494Q341,488 348,495M456,527Q451,511 431,521M151,499Q133,507 129,499M458,534Q461,523 478,539" fill="none" stroke="#f68f6e" stroke-width="3.5" stroke-linecap="round" opacity=".9"/>
</g>
</svg>
<!-- ARROW -->
<svg class="abs" id="arrow" style="left:490px;top:326px" width="100" height="124" viewBox="490 326 100 124">
<defs><filter id="ash" x="-10%" y="-10%" width="125%" height="125%"><feGaussianBlur stdDeviation="1.6"/></filter></defs>
<polygon points="518.6,332.2 563.6,332.2 563.6,401.5 585,401.5 541,446.5 497.2,401.5 518.6,401.5" fill="#000" opacity=".35" filter="url(#ash)"/>
<polygon points="517.1,330.7 562.1,330.7 562.1,399.8 583.6,399.8 539.6,444.8 495.7,399.8 517.1,399.8" fill="#203c75"/>
</svg>
<!-- LABEL -->
<div class="abs" id="lbl" style="left:452.4px;top:347.4px;width:174.4px;height:44.6px;box-sizing:border-box;border:1.3px solid #2c3a58;background:#fff;box-shadow:1.5px 1.5px 3px rgba(0,0,0,.4);"></div>
<div class="abs" id="lblt" style="left:452.7px;top:350.2px;width:173.8px;text-align:center;font-weight:bold;font-size:12.71px;line-height:12px;color:#27385f;white-space:nowrap;">Neovascularization, fluid,<br>retinal/macular<br>distortion<sup style="font-size:8.8px;top:-0.42em">2</sup></div>
<!-- CELLS -->
<svg class="abs" id="cells" style="left:930px;top:155px" width="52" height="150" viewBox="930 155 52 150">
<defs>
<radialGradient id="rc" cx="958" cy="179" r="19" gradientUnits="userSpaceOnUse">
<stop offset="0" stop-color="#f0a3ad"/><stop offset=".4" stop-color="#e05a70"/><stop offset=".8" stop-color="#cc2944"/><stop offset="1" stop-color="#a8152f"/>
</radialGradient>
<radialGradient id="pc" cx="963" cy="222" r="24" gradientUnits="userSpaceOnUse">
<stop offset="0" stop-color="#f8e3ea"/><stop offset=".3" stop-color="#e4b6d1"/><stop offset=".52" stop-color="#a04cb8"/><stop offset=".78" stop-color="#6f1d9c"/><stop offset="1" stop-color="#551285"/>
</radialGradient>
<radialGradient id="oc" cx="957" cy="276" r="16" gradientUnits="userSpaceOnUse">
<stop offset="0" stop-color="#fee283"/><stop offset=".4" stop-color="#fdbb3a"/><stop offset=".8" stop-color="#f68a1a"/><stop offset="1" stop-color="#ec6a10"/>
</radialGradient>
<filter id="cf" x="-5%" y="-5%" width="110%" height="110%"><feGaussianBlur stdDeviation="0.45"/></filter>
</defs>
<g filter="url(#cf)">
<!-- red cell -->
<path d="M955,164.3 C964,163.5 972.8,171 972.6,181 C972.4,191 964.5,198 954.5,197.6 C944.5,197.2 936.8,190 937,180.5 C937.2,171 945,165 955,164.3 Z" fill="url(#rc)" stroke="#9c1530" stroke-width=".8"/>
<g fill="#9a1230" opacity=".85"><circle cx="948.5" cy="173.5" r="3"/><circle cx="945" cy="184.5" r="2.6"/><circle cx="952.5" cy="190.5" r="3"/><circle cx="967" cy="181.5" r="3.2"/><circle cx="962" cy="189" r="1.6"/></g>
<path d="M952.5,190.5 C957,192 962,190 967,182" fill="none" stroke="#9a1230" stroke-width="1.3" opacity=".8"/>
<g fill="#c9405a"><circle cx="948.8" cy="173.2" r="1.1"/><circle cx="967.2" cy="181.2" r="1.2"/><circle cx="952.6" cy="190.3" r="1"/></g>
<!-- purple cell -->
<path d="M957,215.8 C965,215.5 972,222 971.7,231 C971.4,240 965,246.3 956.5,246 C948,245.7 941.6,239.5 941.8,230.5 C942,222 948.5,216.2 957,215.8 Z" fill="url(#pc)" stroke="#5a1488" stroke-width=".6"/>
<g fill="#b57ad6" opacity=".7"><circle cx="950" cy="236" r=".9"/><circle cx="955" cy="240" r=".8"/><circle cx="947" cy="230" r=".8"/><circle cx="960" cy="238" r=".9"/><circle cx="952" cy="232" r=".7"/></g>
<!-- orange cell -->
<g fill="none" stroke="#f07a16" stroke-width="2.4" stroke-linecap="round">
<path d="M959,266 C958.5,262.5 960,260.5 962,260.2"/><path d="M949.5,267 C948.5,264.5 949,263 950.5,262.6"/><path d="M943,272.5 L940.5,270.8"/><path d="M942.5,283 L937.5,281.5"/><path d="M944,288 L938,290"/><path d="M968,277.5 L972.5,276.5"/><path d="M968,284 L972.3,285.5"/><path d="M964,291 L965,293.2"/><path d="M951,292 L949.5,293.5"/><path d="M966,269.5 L967,267.5"/>
</g>
<path d="M955,265 C958,264.2 961,266.4 963.5,267 C966.5,267.8 967.8,271 968,274 C968.3,277 969.5,279.5 968.5,282.5 C967.5,286 966,288.5 963,290.5 C960,292.5 957,293.3 953.5,292.8 C950,292.3 946.5,291 944.5,288 C942.5,285 941.3,282 941.8,278.5 C942.3,275 942.8,271.5 945.5,269 C948.3,266.5 951.5,265.8 955,265 Z" fill="url(#oc)"/>
<circle cx="938" cy="289.8" r="1.6" fill="#f3a21e"/>
<circle cx="972.3" cy="276.8" r="1.3" fill="#f6a823"/>
</g>
</svg>
<!-- PROTEIN -->
<svg class="abs" id="prot" style="left:875px;top:350px" width="80" height="115" viewBox="0 0 401 576">
<defs><filter id="pf" x="-5%" y="-5%" width="110%" height="110%"><feGaussianBlur stdDeviation="1.5"/></filter>
<linearGradient id="rib" x1="0" y1="0" x2="1" y2="1"><stop offset="0" stop-color="#c2343a"/><stop offset=".5" stop-color="#a3161c"/><stop offset="1" stop-color="#7e0f14"/></linearGradient></defs>
<g filter="url(#pf)">
<path d="M193,39L168,47L155,51M188,46L198,69L209,71M189,31L216,48L213,65M178,30L163,8L158,0M176,39L183,57L191,72M215,63L187,60L176,60M222,64L258,64L267,59M220,58L217,73L206,79M205,54L237,46L246,54M206,63L229,60L238,65M249,85L267,96L277,92M246,74L258,83L267,91M233,83L244,111L255,114M249,86L254,105L265,118M247,83L253,105L269,111M275,97L280,116L286,122M265,102L287,116L300,120M271,107L295,101L300,93M265,94L292,76L309,76M278,102L289,135L294,143M270,134L304,143L319,137M269,134L252,123L242,127M277,126L247,114L245,104M274,121L294,123L303,116M272,138L257,130L258,116M258,151L248,126L231,125M255,163L245,129L239,115M257,161L241,194L227,203M271,168L268,139L262,125M263,166L290,146L304,150M272,192L256,176L242,180M275,188L308,186L320,193M262,195L231,207L231,221M274,190L255,192L238,190M266,194L265,208L272,215M284,223L307,207L315,195M291,223L299,246L292,255M278,215L260,204L256,188M281,208L272,175L268,164M288,215L293,237L303,250M286,241L310,238L316,244M291,256L284,230L275,229M302,245L288,249L284,257M298,253L281,236L281,218M295,244L287,227L274,227M310,282L306,264L310,252M313,291L290,271L291,262M308,284L335,272L352,270M323,291L304,309L292,306M319,291L309,276L304,262M310,330L317,362L320,378M307,317L293,348L299,358M300,311L270,301L266,293M297,326L302,309L297,301M307,324L277,321L272,309M254,301L270,296L280,284M267,301L250,282L240,277M254,307L273,279L286,281M261,300L244,292L238,287M258,306L283,301L296,301M221,313L215,299L227,286M213,314L210,338L197,349M214,317L193,320L187,313M214,310L217,295L223,286M212,320L195,341L198,354M181,339L181,357L184,369M174,343L157,339L145,333M187,335L203,313L219,307M176,348L193,336L198,319M175,345L188,334L190,325M156,363L167,342L171,328M154,378L172,380L175,389M150,374L119,373L113,378M151,370L163,379L169,386M157,380L164,397L159,404M109,405L142,419L154,418M112,390L89,388L75,379M115,398L125,420L134,424M118,406L104,405L90,396M112,400L96,383L103,369M95,436L93,470L84,478M94,435L120,415L133,415M87,429L84,414L73,411M85,439L67,418L63,407M91,428L76,405L85,394M130,430L120,401L120,386M111,434L110,457L112,465M121,440L121,474L108,480M126,432L154,431L169,434M113,439L146,449L158,443M169,408L157,399L147,389M163,411L150,426L147,441M155,401L151,415L159,428M165,401L139,423L124,414M159,410L189,425L189,435M194,424L160,419L156,404M192,424L179,414L171,415M189,428L172,425L162,425M196,426L175,414L178,397M182,433L180,414L188,402M234,401L221,417L210,426M225,410L225,391L240,383M225,399L240,402L248,407M222,404L207,399L193,394M224,397L207,414L191,418M276,372L291,380L296,389M276,367L259,376L241,378M275,378L263,402L260,413M262,362L289,381L298,390M276,362L267,343L254,336M304,349L323,359L332,359M297,337L279,361L266,366M308,344L339,327L349,329M309,353L299,374L301,385M298,343L283,359L283,373M257,421L264,396L257,383M240,420L255,407L266,398M256,411L284,405L300,404M255,428L268,436L281,429M253,415L272,439L287,442M198,437L167,433L163,419M204,444L179,445L172,435M207,446L220,421L236,416M200,444L228,437L239,442M205,450L190,458L183,465M156,474L162,497L173,499M166,459L187,477L199,473M151,457L121,440L111,442M162,459L165,489L173,496M156,466L171,493L167,505M118,482L116,515L113,533M101,494L82,496L73,489M105,495L81,490L72,485M107,491L132,493L144,500M106,480L116,495L112,507M55,511L32,484L16,483M67,516L99,517L105,508M60,509L56,494L67,485M66,508L79,492L88,493M61,511L69,494L64,479M32,516L24,535L19,550M32,518L14,540L4,555M30,518L44,493L53,487M30,530L8,520L4,511M38,521L22,507L11,504M85,494L63,512L52,513M94,497L119,488L127,491M94,504L104,517L116,518M82,495L96,471L93,463M98,499L85,507L73,515M138,477L141,445L140,437M150,486L126,503L112,506M137,483L158,485L166,477M147,482L115,480L104,491M137,480L158,465L160,450M334,307L360,305L372,292M322,295L309,282L301,269M327,299L311,330L318,346M331,301L353,327L359,336M336,302L367,283L368,267M335,271L327,304L318,309M331,264L316,259L314,242M343,275L332,257L322,248M334,269L339,256L333,246M340,265L324,258L315,251M238,343L229,331L235,319M237,354L215,358L201,352M242,357L206,360L194,364M236,351L204,337L188,333M240,358L233,372L221,379M207,371L207,351L197,343M196,384L173,384L163,383M200,371L192,393L175,397M203,386L187,358L172,352M197,386L166,372L154,378M125,451L138,447L145,441M128,452L153,433L161,429M126,455L159,462L165,478M126,463L108,467L101,460M129,448L141,430L159,428M69,478L77,504L86,506M83,477L80,457L83,448M74,462L62,429L53,423M69,465L64,447L66,431M83,472L63,492L61,503M316,253L341,240L343,222M321,241L297,250L286,252M312,246L312,277L305,286M314,258L309,284L301,285M318,259L288,266L279,268M247,243L221,233L214,222M254,240L221,239L217,230M252,235L255,217L256,202M245,240L252,209L246,197M252,244L237,244L221,242" fill="none" stroke="#d3a9a8" stroke-width="2.4" opacity=".85"/>
<path d="M175,40L181,51L187,61M176,48L175,69L171,82M208,56L211,43L203,36M210,62L198,50L182,53M233,84L240,96L235,111M237,74L252,80L252,89M280,93L259,94L244,97M278,93L291,96L302,96M266,140L256,145L241,143M276,125L278,138L282,155M275,162L265,173L270,184M262,164L255,155L259,142M268,197L280,186L289,173M264,191L267,206L275,211M281,214L285,230L273,239M283,206L291,197L302,192M289,245L287,255L289,273M292,243L289,230L298,222M323,275L325,255L321,244M312,290L331,302L338,306M291,313L280,321L273,325M301,313L295,327L287,334M253,294L250,275L240,263M267,295L255,303L249,313M210,318L213,328L214,344M223,323L237,321L247,310M187,335L176,314L174,306M171,338L157,344L149,354M148,370L146,382L154,393M147,368L148,380L158,388M114,390L109,374L102,364M101,400L116,406L126,413M80,427L74,439L61,441M84,429L82,449L76,465M129,445L117,459L105,467M116,447L102,455L91,451M153,410L162,404L168,395M154,405L166,403L176,406M188,420L205,420L220,420M191,432L173,426L172,415M226,404L213,423L200,430M223,402L244,398L257,394M275,371L265,381L264,391M270,363L265,374L269,381M292,344L308,356L312,368M307,336L319,355L331,360M254,415L259,400L267,392M257,427L246,444L239,454M207,446L202,428L191,423M194,430L187,419L182,402M164,463L175,461L187,463M151,469L173,460L175,451M120,477L115,497L117,505M107,481L91,477L82,463M62,515L59,530L47,533M66,503L60,486L52,483M40,512L52,507L58,501M43,515L32,511L19,514M81,491L72,501L61,500M90,510L101,516L117,512M146,478L130,479L125,492M136,489L125,473L130,456M334,294L314,301L313,311M327,305L335,313L348,316M349,260L362,261L378,263M338,276L343,256L357,249M244,348L255,347L265,351M237,345L245,339L253,330M202,383L191,365L182,359M197,377L209,369L219,368M134,449L133,431L125,426M120,455L111,468L106,478M69,478L46,472L31,475M74,479L92,494L104,494M315,254L312,242L320,234M330,243L336,257L337,268M252,248L244,238L247,224M242,247L224,246L213,240" fill="none" stroke="#b86a6c" stroke-width="1.8" opacity=".6"/>
<g fill="none" stroke="#9c141a" stroke-linecap="round" stroke-linejoin="round">
<path d="M185,42 C210,55 230,75 255,88 C270,95 280,100 285,108" stroke-width="6"/>
<path d="M285,205 C290,235 300,260 318,288" stroke-width="6"/>
<path d="M240,300 C262,298 280,305 300,322" stroke-width="5"/>
<path d="M160,350 C130,370 95,395 85,420 C82,440 100,448 120,438 C140,425 150,405 175,408 C190,412 192,425 185,435" stroke-width="7"/>
<path d="M300,340 C320,330 335,310 338,285" stroke-width="6"/>
<path d="M190,458 C200,450 210,440 215,432" stroke-width="6"/>
</g>
<g fill="#a3161c">
<polygon points="250,128 298,110 304,134 256,154"/>
<polygon points="242,160 294,144 298,170 248,188"/>
<polygon points="248,194 290,182 292,202 252,214"/>
</g>
<g fill="#d9b9a0" opacity=".9"><polygon points="288,140 300,136 298,150 286,152"/><polygon points="282,172 294,170 292,182 282,184"/></g>
<g fill="url(#rib)"><path d="M150,356 Q217,352 246,292 Q179,296 150,356 Z"/><path d="M196,446 Q283,421 308,334 Q221,359 196,446 Z"/><path d="M36,522 Q129,516 196,452 Q103,458 36,522 Z"/><path d="M58,494 Q119,497 170,462 Q109,459 58,494 Z"/><path d="M294,322 Q333,310 338,270 Q299,282 294,322 Z"/><path d="M288,266 Q316,265 324,238 Q296,239 288,266 Z"/><path d="M120,400 Q165,399 200,372 Q155,373 120,400 Z"/></g>
<g fill="#e58d92" opacity=".75"><path d="M160,348 Q203,327 240,296 Q197,317 160,348 Z"/><path d="M206,436 Q259,395 300,342 Q247,383 206,436 Z"/><path d="M50,514 Q120,491 186,456 Q116,479 50,514 Z"/></g>
</g>
</svg>
<!-- BOX 1 TEXT -->
<div class="num" id="n1" style="left:65.6px;top:120.6px;">1</div>
<div class="h" id="h1" style="left:93.3px;top:117.5px;">CNV starts with inflammation in the<br>choroid and retinal pigment<br>epithelium (RPE)</div>
<div class="bl" style="left:186.5px;top:180.6px;">•</div>
<div class="bl" style="left:186.5px;top:208.6px;">•</div>
<div class="t" id="t1" style="left:201.2px;top:180.6px;">The <b>choroid</b> is part of the<br>vascular layer of the eye<sup>1</sup><br>The <b>RPE,</b> adjacent to the<br>choroid, is constantly<br>exposed to high levels of<br>metabolic and oxidative<br>stress<sup>1</sup></div>

<div class="lab" style="left:526px;top:114px;">retina (macular)</div>
<div class="lab" style="left:526.7px;top:131.4px;">photoreceptor cells</div>
<div class="lab" style="left:525.3px;top:149px;">retinal pigment epithelium</div>
<div class="lab" style="left:525.3px;top:166px;">choroid</div>

<div class="bl" style="left:516.5px;top:200.7px;">•</div>
<div class="bl" style="left:516.5px;top:256.5px;">•</div>
<div class="t" id="t1b" style="left:531.2px;top:200.7px;">The RPEs ability to cope with<br>stress decreases with age and the<br>subsequent inflammation damages<br>the RPE and photoreceptors<sup>2</sup><br>Damaged RPE releases<br>leukotrienes, including <b>LTB4<sup>2,3</sup></b></div>

<!-- BOX 2 TEXT -->
<div class="num" id="n2" style="left:755.3px;top:116px;">2</div>
<div class="h" id="h2" style="left:785.2px;top:112.1px;font-size:14.72px;line-height:15.85px;">LTB4 activation can lead<br>to over expression of<br>VEGF-A</div>
<div class="bl" style="left:748.5px;top:161px;">•</div>
<div class="bl" style="left:748.5px;top:217px;">•</div>
<div class="t" id="t2" style="left:763.2px;top:161px;">In a pre-clinical model of laser-<br>induced CNV LTB4 recruited<br><b>inflammatory immune cells</b><br>into the retina<sup>3</sup><br>M2 macrophages were attracted<br>and activated via LTB4<br>receptors leading to <b>production</b><br><b>of vascular endothelial</b><br><b>growth factor–A (VEGF-A) <sup>3</sup></b></div>

<!-- BOX 3 TEXT -->
<div class="num" id="n3" style="left:691px;top:323px;">3</div>
<div class="h" id="h3" style="left:717px;top:324px;">Normal expression of VEGF-A is<br>healthy</div>
<div class="bl" style="left:695px;top:359.9px;">•</div>
<div class="bl" style="left:695px;top:401.9px;">•</div>
<div class="t" id="t3" style="left:710.4px;top:359.9px;">VEGF-A is one of the key factors<br>responsible for <b>endothelial cell</b><br>proliferation and migration<br>Endothelial cells <b>form the inner</b><br><b>layer of blood vessels</b> and play<br>a key role in function, including<br>exchanges between blood<br>vessels and surrounding tissues</div>
<div class="lab" id="vegf" style="left:931px;top:442.9px;font-size:11.6px;line-height:13.7px;">VEGF-A<br>protein</div>

<!-- BOX 4 TEXT -->
<div class="num" id="n4" style="left:72px;top:322.5px;">4</div>
<div class="h" id="h4" style="left:98.8px;top:324px;">Overexpression of VEGF-A drives choroidal<br>neovascularization</div>
<div class="bl" style="left:74.5px;top:360px;">•</div>
<div class="bl" style="left:74.5px;top:374px;">•</div>
<div class="bl" style="left:74.5px;top:402px;">•</div>
<div class="t" id="t4" style="left:90.1px;top:360px;"><b>CNV is an overdevelopment of blood vessels</b> in the retina <sup>2</sup><br>New blood vessels are <b>leaky</b>, fluid from blood/red blood cells<br>enter the retina <sup>2</sup><br>Fluid can <b>distort/damage the retina</b>, including photoreceptors <sup>2</sup></div>

<!-- DARK BOX -->
<div class="abs" id="dark" style="left:67.7px;top:423.7px;width:402px;height:65.5px;background:#203c73;box-shadow:1px 1px 3px rgba(0,0,0,.35);"></div>
<div class="abs" id="dt" style="left:83px;top:438.9px;font-size:11.2px;line-height:10.7px;color:#fff;white-space:nowrap;"><b>LTB4 can upregulate the production of VEGF-A, a key driver of CNV. <sup>3</sup></b><br>CNV is responsible for 90% of severe vision loss in AMD patients and eyes<br>with CNV experience greater vision loss than GA only</div>

<!-- REFERENCES -->
<div class="ref" style="left:95.7px;top:501px;font-weight:bold;">References:</div>
<div class="ref" id="refn" style="left:95.7px;top:511.4px;">1.<br>2.<br>3.<br>4.<br>5.</div>
<div class="ref" id="refs" style="left:115.6px;top:511.4px;">Hejtmancik JF, Nickerson JM. Overview of the Visual System. <i>Prog Mol Biol Transl Sci.</i> 2015;134:1-4..<br>Grossniklaus HE, Green WR. Choroidal neovascularization. <i>Am J Ophthalmol.</i> 2004;137(3):496-503.<br>Sasaki F, Koga T, Ohba M, et al. Leukotriene B4 promotes neovascularization and macrophage recruitment in murine wet-type AMD models. <i>JCI Insight</i> 2018;3(18):e96902. Published 2018 Sep 20.<br>Guyer D.R., et al. Subfoveal choroidal neovascular membranes in age-related macular degeneration. Visual prognosis in eyes with relatively good initial visual acuity. <i>Arch Ophthalmol.</i> 1986;104:702–705<br>Wong T.Y., et al. The natural history and prognosis of neovascular age-related macular degeneration: A systematic review of the literature and meta-analysis. <i>Ophthalmology</i> 2008;115:116–126.</div>
<div class="abs" id="pgn" style="left:17.2px;top:549.1px;font-size:11.9px;line-height:14px;color:#404040;">20</div>

</body></html>
